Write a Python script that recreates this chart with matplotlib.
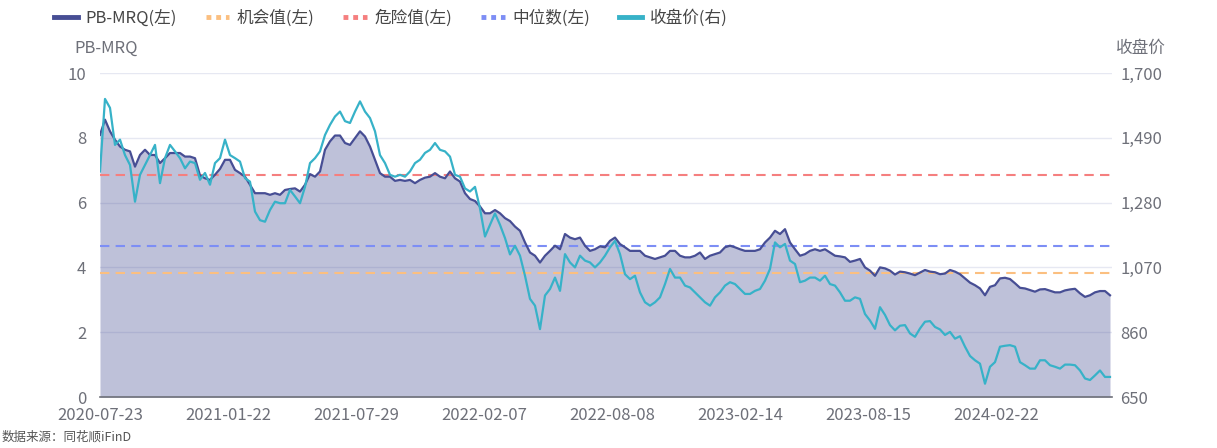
import matplotlib
matplotlib.use("Agg")
import matplotlib.pyplot as plt
from matplotlib.lines import Line2D
from matplotlib.ticker import FuncFormatter
import numpy as np

plt.rcParams["font.family"] = ["Noto Sans CJK SC", "DejaVu Sans"]

# 数据 (约每周一个点)
xtick_labels = ["2020-07-23", "2021-01-22", "2021-07-29", "2022-02-07",
                "2022-08-08", "2023-02-14", "2023-08-15", "2024-02-22"]

pb_mrq = [
    8.09, 8.56, 8.20, 7.94, 7.73, 7.63, 7.58, 7.11, 7.47, 7.63,
    7.47, 7.47, 7.22, 7.37, 7.53, 7.53, 7.53, 7.42, 7.42, 7.37,
    6.84, 6.75, 6.70, 6.86, 7.04, 7.32, 7.32, 7.01, 6.91, 6.80,
    6.55, 6.29, 6.29, 6.29, 6.24, 6.29, 6.24, 6.39, 6.42, 6.44,
    6.34, 6.55, 6.88, 6.80, 6.96, 7.63, 7.89, 8.07, 8.07, 7.84,
    7.78, 7.99, 8.20, 8.04, 7.73, 7.32, 6.91, 6.80, 6.80, 6.67,
    6.70, 6.67, 6.70, 6.60, 6.70, 6.77, 6.80, 6.91, 6.80, 6.75,
    6.96, 6.75, 6.65, 6.29, 6.11, 6.05, 5.88, 5.67, 5.67, 5.77,
    5.67, 5.52, 5.43, 5.26, 5.13, 4.77, 4.46, 4.36, 4.15, 4.36,
    4.51, 4.67, 4.56, 5.03, 4.92, 4.87, 4.92, 4.67, 4.51, 4.56,
    4.65, 4.62, 4.82, 4.92, 4.72, 4.62, 4.51, 4.51, 4.51, 4.36,
    4.31, 4.26, 4.31, 4.36, 4.51, 4.51, 4.36, 4.31, 4.31, 4.36,
    4.46, 4.26, 4.36, 4.41, 4.46, 4.62, 4.67, 4.62, 4.56, 4.51,
    4.51, 4.51, 4.56, 4.77, 4.92, 5.13, 5.03, 5.18, 4.77, 4.56,
    4.36, 4.41, 4.51, 4.56, 4.51, 4.56, 4.46, 4.36, 4.34, 4.31,
    4.17, 4.21, 4.26, 4.00, 3.90, 3.74, 4.00, 3.97, 3.90, 3.78,
    3.87, 3.85, 3.81, 3.76, 3.84, 3.92, 3.87, 3.85, 3.79, 3.81,
    3.92, 3.87, 3.79, 3.66, 3.53, 3.45, 3.35, 3.14, 3.40, 3.45,
    3.66, 3.68, 3.64, 3.51, 3.37, 3.35, 3.30, 3.25, 3.32, 3.33,
    3.28, 3.23, 3.23, 3.29, 3.32, 3.34, 3.20, 3.09, 3.14, 3.23,
    3.27, 3.27, 3.14,
]

close_price = [
    1381, 1616, 1587, 1467, 1484, 1434, 1402, 1283, 1370, 1402,
    1434, 1467, 1343, 1424, 1467, 1446, 1424, 1391, 1413, 1408,
    1354, 1376, 1338, 1408, 1424, 1484, 1434, 1424, 1413, 1359,
    1348, 1251, 1223, 1218, 1256, 1283, 1278, 1278, 1321, 1300,
    1278, 1331, 1408, 1424, 1446, 1499, 1532, 1559, 1575, 1544,
    1538, 1575, 1608, 1575, 1554, 1511, 1434, 1408, 1370, 1364,
    1370, 1364, 1381, 1408, 1419, 1441, 1451, 1473, 1451, 1446,
    1429, 1370, 1364, 1326, 1316, 1331, 1261, 1170, 1208, 1245,
    1208, 1165, 1112, 1140, 1108, 1043, 968, 946, 870, 979,
    1000, 1037, 994, 1113, 1086, 1070, 1108, 1092, 1086, 1070,
    1086, 1108, 1135, 1156, 1113, 1048, 1032, 1043, 989, 957,
    946, 957, 973, 1016, 1065, 1037, 1037, 1011, 1005, 989,
    973, 957, 946, 973, 989, 1011, 1022, 1016, 1000, 984,
    984, 994, 1000, 1027, 1065, 1151, 1135, 1146, 1092, 1081,
    1022, 1027, 1037, 1037, 1027, 1043, 1016, 1011, 989, 962,
    962, 973, 968, 919, 898, 871, 941, 916, 883, 866,
    881, 883, 856, 845, 872, 894, 896, 877, 869, 851,
    861, 839, 847, 813, 783, 769, 758, 693, 748, 763,
    813, 816, 818, 813, 763, 753, 742, 742, 769, 769,
    753, 748, 742, 755, 755, 753, 736, 710, 705, 720,
    736, 715, 715,
]

chance_value = 3.82   # 机会值
danger_value = 6.86   # 危险值
median_value = 4.67   # 中位数

c_pb = "#474E94"
c_price = "#37B2C8"
c_chance = "#FBBF80"
c_danger = "#F57F7F"
c_median = "#7D8EF5"
c_text = "#6E7079"
c_grid = "#E6E8F2"

x = np.arange(len(pb_mrq))

fig = plt.figure(figsize=(12.17, 4.48), dpi=100)
ax = fig.add_axes([100 / 1217, 51 / 448, 1012 / 1217, 324 / 448])
ax2 = ax.twinx()

ax.fill_between(x, pb_mrq, 0, color=c_pb, alpha=0.35, linewidth=0, zorder=1)
ax.plot(x, pb_mrq, color=c_pb, linewidth=1.6, zorder=4)
dash = (0, (4.5, 3))
ax.axhline(chance_value, color=c_chance, linewidth=1.5, linestyle=dash, zorder=3)
ax.axhline(danger_value, color=c_danger, linewidth=1.5, linestyle=dash, zorder=3)
ax.axhline(median_value, color=c_median, linewidth=1.5, linestyle=dash, zorder=3)
ax2.plot(x, close_price, color=c_price, linewidth=1.6, zorder=5)

ax.set_xlim(0, len(pb_mrq) - 1 + 0.4)
ax.set_ylim(0, 10)
ax.set_yticks(np.arange(0, 11, 2))
ax2.set_ylim(650, 1700)
ax2.set_yticks([650, 860, 1070, 1280, 1490, 1700])
ax2.yaxis.set_major_formatter(FuncFormatter(lambda v, p: f"{int(v):,}"))

ax.set_xticks(np.arange(len(xtick_labels)) * 25.6)
ax.set_xticklabels(xtick_labels)

ax.set_axisbelow(True)
ax.grid(axis="y", color=c_grid, linewidth=1)
for a in (ax, ax2):
    for s in ("top", "left", "right", "bottom"):
        a.spines[s].set_visible(False)
    a.tick_params(length=0, labelsize=12, labelcolor=c_text)
ax.spines["bottom"].set_visible(True)
ax.spines["bottom"].set_color(c_text)
ax.spines["bottom"].set_linewidth(1.2)
ax.tick_params(axis="x", pad=7)
ax.tick_params(axis="y", pad=10)
ax2.tick_params(axis="y", pad=6)

fig.text(106 / 1217, 1 - 48 / 448, "PB-MRQ", ha="center", va="center",
         fontsize=12, color=c_text)
fig.text(1141 / 1217, 1 - 48 / 448, "收盘价", ha="center", va="center",
         fontsize=12, color=c_text)

handles = [
    Line2D([], [], color=c_pb, linewidth=3.5),
    Line2D([], [], color=c_chance, linewidth=3.5, linestyle=(0, (1, 1))),
    Line2D([], [], color=c_danger, linewidth=3.5, linestyle=(0, (1, 1))),
    Line2D([], [], color=c_median, linewidth=3.5, linestyle=(0, (1, 1))),
    Line2D([], [], color=c_price, linewidth=3.5),
]
labels = ["PB-MRQ(左)", "机会值(左)", "危险值(左)", "中位数(左)", "收盘价(右)"]
leg = fig.legend(handles, labels, loc="center left",
                 bbox_to_anchor=(46 / 1217, 1 - 18 / 448), ncol=5, frameon=False,
                 fontsize=12, handlelength=1.4, handletextpad=0.45,
                 columnspacing=1.75, borderpad=0)
for t in leg.get_texts():
    t.set_color("#464646")

fig.text(2 / 1217, 1 - 437 / 448, "数据来源：同花顺iFinD", ha="left", va="center",
         fontsize=9, color="#555555")

fig.savefig("out.png", dpi=100)
